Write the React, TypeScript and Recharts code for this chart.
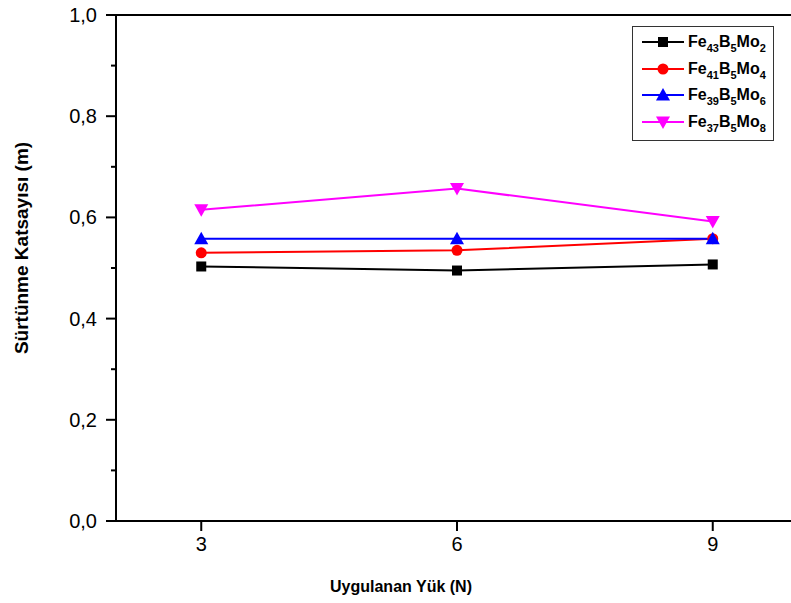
import React from 'react';
import { LineChart, Line, XAxis, YAxis, ReferenceLine, Legend } from 'recharts';

const loads = [3, 6, 9];
const fe43 = [0.503, 0.495, 0.507];
const fe41 = [0.53, 0.535, 0.558];
const fe39 = [0.558, 0.558, 0.558];
const fe37 = [0.615, 0.657, 0.592];
const yTicks = [0, 0.1, 0.2, 0.3, 0.4, 0.5, 0.6, 0.7, 0.8, 0.9, 1.0];
const yMajor = [0, 0.2, 0.4, 0.6, 0.8, 1.0];
const xTicks = [3, 6, 9];

const series = [
  { key: 'fe43', values: fe43, color: '#000000', shape: 'square', parts: ['Fe', '43', 'B', '5', 'Mo', '2'] },
  { key: 'fe41', values: fe41, color: '#ff0000', shape: 'circle', parts: ['Fe', '41', 'B', '5', 'Mo', '4'] },
  { key: 'fe39', values: fe39, color: '#0000ff', shape: 'up', parts: ['Fe', '39', 'B', '5', 'Mo', '6'] },
  { key: 'fe37', values: fe37, color: '#ff00ff', shape: 'down', parts: ['Fe', '37', 'B', '5', 'Mo', '8'] },
];

const data = loads.map((x, i) => {
  const row: any = { x };
  series.forEach((s) => (row[s.key] = s.values[i]));
  return row;
});

function Marker({ shape, cx, cy, color }: any) {
  if (cx == null || cy == null) return null;
  if (shape === 'square') return <rect x={cx - 5} y={cy - 5} width={10} height={10} fill={color} />;
  if (shape === 'circle') return <circle cx={cx} cy={cy} r={5.5} fill={color} />;
  if (shape === 'up')
    return <polygon points={`${cx},${cy - 7} ${cx + 7},${cy + 5.5} ${cx - 7},${cy + 5.5}`} fill={color} />;
  return <polygon points={`${cx - 7},${cy - 5.5} ${cx + 7},${cy - 5.5} ${cx},${cy + 7}`} fill={color} />;
}

const fmt = (v: number) => v.toFixed(1).replace('.', ',');

function YTick(props: any) {
  const { x, y, payload } = props;
  const axisX = x + 19;
  const v = payload.value;
  const major = yMajor.some((m) => Math.abs(m - v) < 1e-6);
  return (
    <g>
      <line x1={axisX - (major ? 10 : 5)} x2={axisX} y1={y} y2={y} stroke="#000" strokeWidth={2} />
      {major && (
        <text x={x} y={y} textAnchor="end" dominantBaseline="central" fontSize={20} fill="#000">
          {fmt(v)}
        </text>
      )}
    </g>
  );
}

function LegendBox() {
  return (
    <div
      style={{
        width: 140,
        height: 109,
        border: '1px solid #333',
        background: '#fff',
        padding: '2px 0',
        boxSizing: 'content-box',
        fontFamily: '"Liberation Sans", Arial, sans-serif',
      }}
    >
      {series.map((s) => (
        <div key={s.key} style={{ height: 26.5, display: 'flex', alignItems: 'center' }}>
          <svg width={42} height={20} style={{ marginLeft: 9, display: 'block' }}>
            <line x1={0} x2={42} y1={10} y2={10} stroke={s.color} strokeWidth={2} />
            <Marker shape={s.shape} cx={21} cy={10} color={s.color} />
          </svg>
          <span style={{ marginLeft: 4, fontSize: 16, fontWeight: 'bold', color: '#000', whiteSpace: 'nowrap' }}>
            {s.parts.map((p, i) =>
              i % 2 === 0 ? (
                <span key={i}>{p}</span>
              ) : (
                <span key={i} style={{ fontSize: 11, position: 'relative', top: 5 }}>
                  {p}
                </span>
              )
            )}
          </span>
        </div>
      ))}
    </div>
  );
}

export default function App() {
  return (
    <div
      style={{
        position: 'absolute',
        left: 0,
        top: 0,
        width: 791,
        height: 603,
        overflow: 'hidden',
        background: '#fff',
        fontFamily: '"Liberation Sans", Arial, sans-serif',
      }}
    >
      <LineChart width={800} height={603} data={data} margin={{ top: 15, right: 2, bottom: 21, left: 0 }}>
        <XAxis
          dataKey="x"
          type="number"
          domain={[2, 10]}
          ticks={xTicks}
          allowDataOverflow
          height={61}
          tickSize={10}
          tickMargin={6}
          axisLine={{ stroke: '#000', strokeWidth: 2 }}
          tickLine={{ stroke: '#000', strokeWidth: 2 }}
          tick={{ fontSize: 20, fill: '#000' }}
          label={{
            content: () => (
              <text x={401} y={592} textAnchor="middle" fontSize={16} fontWeight="bold" fill="#000">
                Uygulanan Yük (N)
              </text>
            ),
          }}
        />
        <YAxis
          type="number"
          domain={[0, 1]}
          ticks={yTicks}
          width={116}
          tickSize={10}
          tickMargin={9}
          interval={0}
          axisLine={{ stroke: '#000', strokeWidth: 2 }}
          tickLine={false}
          tick={<YTick />}
          label={{
            content: () => (
              <text
                x={28}
                y={248}
                transform="rotate(-90 28 248)"
                textAnchor="middle"
                fontSize={19}
                fontWeight="bold"
                fill="#000"
              >
                Sürtünme Katsayısı (m)
              </text>
            ),
          }}
        />
        <ReferenceLine y={1} stroke="#000" strokeWidth={2} />
        {series.map((s) => (
          <Line
            key={s.key}
            dataKey={s.key}
            stroke={s.color}
            strokeWidth={2}
            isAnimationActive={false}
            dot={(p: any) => <Marker key={`${s.key}-${p.index}`} shape={s.shape} cx={p.cx} cy={p.cy} color={s.color} />}
            activeDot={false}
          />
        ))}
        <Legend
          layout="vertical"
          align="center"
          verticalAlign="middle"
          content={() => <LegendBox />}
          wrapperStyle={{ left: 632, top: 26, width: 142 }}
        />
      </LineChart>
    </div>
  );
}
